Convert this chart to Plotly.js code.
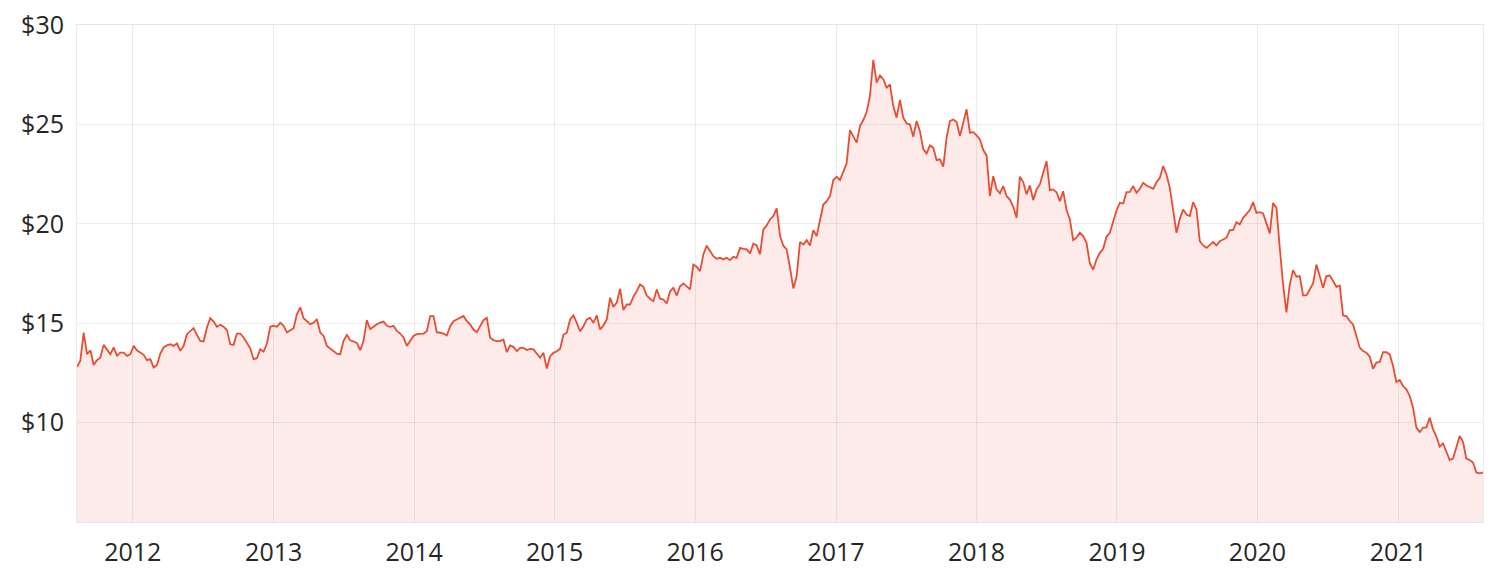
<!DOCTYPE html>
<html>
<head>
<meta charset="utf-8">
<script src="https://cdn.plot.ly/plotly-3.0.1.min.js"></script>
<style>html,body{margin:0;padding:0;background:#fff;}#chart{width:1490px;height:584px;}</style>
</head>
<body>
<div id="chart"></div>
<script>
// Share price readings, evenly spaced between the first and last date
const firstDate = '2011-08-09';
const lastDate = '2021-08-09';

const prices2011_2014 = [
  12.80,13.11,14.53,13.44,13.64,12.90,13.14,13.27,13.91,13.64,
  13.44,13.78,13.36,13.52,13.52,13.36,13.44,13.86,13.64,13.52,
  13.41,13.14,13.19,12.77,12.90,13.47,13.78,13.89,13.94,13.86,
  13.98,13.61,13.86,14.45,14.58,14.75,14.41,14.11,14.08,14.78,
  15.25,15.08,14.82,14.92,14.82,14.65,13.94,13.91,14.48,14.48,
  14.28,14.03,13.74,13.19,13.24,13.69,13.57,13.98,14.82,14.88,
  14.82,15.02,14.88,14.53,14.65,14.75,15.45,15.80,15.25,15.08,
  14.95,15.02,15.20,14.53,14.36,13.86,13.74,13.61,13.47,13.44,
  14.11,14.41,14.14,14.08,14.01,13.64,14.11,15.15,14.70,14.82,
  14.95,15.03,15.08,14.87,14.82,14.87,14.61,14.48,14.28,13.86,
  14.11,14.36,14.45,14.48,14.48,14.60
];
const prices2014_2016 = [
  15.36,15.36,14.55,14.52,14.48,14.38,14.85,15.10,15.19,15.31,
  15.36,15.10,14.94,14.68,14.55,14.85,15.15,15.27,14.27,14.15,
  14.10,14.10,14.18,13.54,13.88,13.81,13.59,13.76,13.76,13.65,
  13.71,13.68,13.48,13.26,13.51,12.72,13.34,13.51,13.59,13.71,
  14.42,14.52,15.19,15.39,15.02,14.60,14.85,15.19,15.27,15.02,
  15.39,14.68,14.89,15.19,16.28,15.82,16.03,16.73,15.66,15.94,
  15.94,16.33,16.61,16.95,16.83,16.39,16.23,16.11,16.70,16.23,
  16.19,15.99,16.61,16.78,16.39,16.86,17.00,16.83,16.70,17.95,
  17.84,17.62,18.46,18.90,18.63,18.37,18.24,18.29,18.21,18.29,
  18.17,18.34,18.29,18.79,18.74,18.71,18.51,19.01,18.91,18.46,
  19.71,19.92,20.22,20.39,20.78,19.40,18.90
];
const prices2016_2019 = [
  18.71,17.79,16.75,17.37,19.08,18.96,19.18,18.91,19.68,19.38,
  20.13,20.97,21.14,21.39,22.20,22.37,22.20,22.60,23.04,24.71,
  24.38,24.08,24.92,25.22,25.62,26.43,28.25,27.10,27.47,27.27,
  26.85,27.01,25.92,25.34,26.23,25.34,25.05,25.00,24.38,25.17,
  24.66,23.74,23.54,23.94,23.83,23.20,23.24,22.87,24.33,25.17,
  25.25,25.12,24.41,25.12,25.76,24.58,24.61,24.45,24.24,23.71,
  23.44,21.39,22.40,21.73,21.53,21.90,21.39,21.22,20.86,20.30,
  22.37,22.10,21.48,21.93,21.19,21.73,21.98,22.57,23.15,21.69,
  21.73,21.59,21.14,21.64,20.69,20.22,19.18,19.30,19.55,19.38,
  19.04,18.00,17.70,18.20,18.54,18.74,19.35,19.55,20.08,20.67,
  21.06,21.02,21.59,21.60,21.90
];
const prices2019_2021 = [
  21.56,21.76,22.06,21.93,21.86,21.76,22.09,22.31,22.90,22.48,
  21.81,20.55,19.55,20.25,20.72,20.47,20.39,21.09,20.72,19.13,
  18.91,18.79,18.96,19.08,18.91,19.13,19.21,19.30,19.68,19.68,
  20.08,19.97,20.30,20.47,20.69,21.09,20.55,20.59,20.52,20.02,
  19.51,21.05,20.80,18.79,16.95,15.55,16.95,17.67,17.34,17.37,
  16.40,16.40,16.67,17.00,17.95,17.37,16.78,17.37,17.40,17.12,
  16.83,16.90,15.39,15.36,15.11,14.94,14.32,13.77,13.60,13.52,
  13.32,12.71,13.02,13.05,13.55,13.55,13.43,12.85,12.04,12.14,
  11.84,11.67,11.34,10.75,9.75,9.53,9.75,9.75,10.25,9.66,
  9.30,8.79,8.96,8.49,8.12,8.19,8.74,9.33,9.03,8.19,
  8.12,7.99,7.49,7.45,7.49
];

const yTickValues = [10, 15, 20, 25, 30];
const yTickLabels = ['$10', '$15', '$20', '$25', '$30'];
const xTickValues = ['2012-01-01','2013-01-01','2014-01-01','2015-01-01','2016-01-01',
                     '2017-01-01','2018-01-01','2019-01-01','2020-01-01','2021-01-01'];
const xTickLabels = ['2012','2013','2014','2015','2016','2017','2018','2019','2020','2021'];

const prices = [].concat(prices2011_2014, prices2014_2016, prices2016_2019, prices2019_2021);
const t0 = new Date(firstDate + 'T00:00:00Z').getTime();
const t1 = new Date(lastDate + 'T00:00:00Z').getTime();
const dates = prices.map((_, i) => new Date(t0 + i * (t1 - t0) / (prices.length - 1)).toISOString());

const font = "'Open Sans', 'Noto Sans', sans-serif";

Plotly.newPlot('chart', [{
  x: dates,
  y: prices,
  type: 'scatter',
  mode: 'lines',
  line: {color: '#e84c33', width: 1.8},
  fill: 'tozeroy',
  fillcolor: 'rgba(232,76,51,0.11)',
  hoverinfo: 'skip'
}], {
  width: 1490,
  height: 584,
  margin: {l: 77, r: 7, t: 25, b: 62},
  paper_bgcolor: '#ffffff',
  plot_bgcolor: '#ffffff',
  showlegend: false,
  font: {family: font, size: 25, color: '#262626'},
  xaxis: {
    type: 'date',
    range: [dates[0], dates[dates.length - 1]],
    tickmode: 'array',
    tickvals: xTickValues,
    ticktext: xTickLabels,
    showgrid: true,
    gridcolor: 'rgba(0,0,0,0.075)',
    gridwidth: 1,
    showline: true,
    linecolor: 'rgba(0,0,0,0.1)',
    linewidth: 1,
    mirror: true,
    ticks: '',
    zeroline: false,
    ticklabelstandoff: 8,
    tickfont: {family: font, size: 25, color: '#262626'}
  },
  yaxis: {
    range: [5, 30],
    tickmode: 'array',
    tickvals: yTickValues,
    ticktext: yTickLabels,
    showgrid: true,
    gridcolor: 'rgba(0,0,0,0.075)',
    gridwidth: 1,
    showline: true,
    linecolor: 'rgba(0,0,0,0.075)',
    linewidth: 1,
    mirror: true,
    ticks: '',
    zeroline: false,
    ticklabelstandoff: 7,
    tickfont: {family: font, size: 25, color: '#262626'}
  }
}, {displayModeBar: false, staticPlot: true});
</script>
</body>
</html>
